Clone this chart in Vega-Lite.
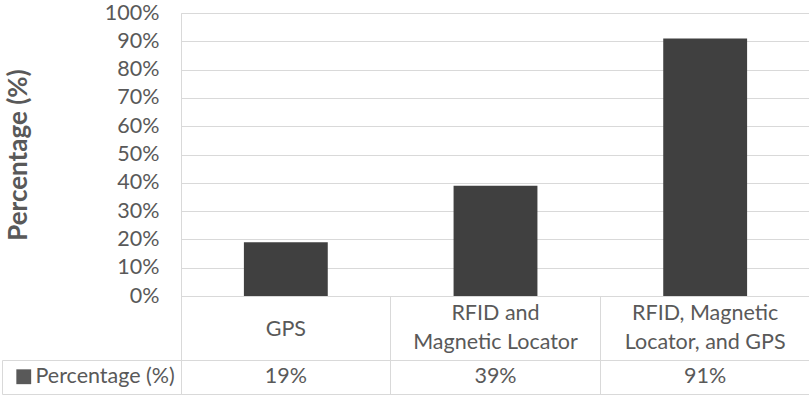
{
  "$schema": "https://vega.github.io/schema/vega-lite/v6.json",
  "background": "white",
  "padding": {"left": 1, "top": 1, "right": 0, "bottom": 0},
  "config": {
    "font": "Lato",
    "view": {"stroke": "#d9d9d9", "strokeWidth": 1},
    "axis": {"labelFont": "Lato", "titleFont": "Lato", "labelColor": "#595959", "titleColor": "#595959"},
    "legend": {"labelFont": "Lato"}
  },
  "datasets": {
    "usage": [
      {"system": "GPS", "series": "Percentage (%)", "share": 0.19},
      {"system": "RFID and\nMagnetic Locator", "series": "Percentage (%)", "share": 0.39},
      {"system": "RFID, Magnetic\nLocator, and GPS", "series": "Percentage (%)", "share": 0.91}
    ]
  },
  "data": {"name": "usage"},
  "spacing": 0,
  "bounds": "flush",
  "resolve": {"scale": {"x": "independent", "y": "independent", "color": "independent"}},
  "vconcat": [
    {
      "width": 629,
      "height": 283,
      "mark": {"type": "bar", "color": "#404040"},
      "encoding": {
        "x": {"field": "system", "type": "nominal", "sort": null, "scale": {"type": "band", "paddingInner": 0.6, "paddingOuter": 0.3}, "axis": null},
        "y": {
          "field": "share", "type": "quantitative",
          "scale": {"domain": [0, 1], "nice": false},
          "axis": {
            "title": "Percentage (%)", "format": ".0%",
            "values": [0, 0.1, 0.2, 0.3, 0.4, 0.5, 0.6, 0.7, 0.8, 0.9, 1],
            "grid": true, "gridColor": "#d9d9d9", "domain": false, "ticks": false,
            "labelPadding": 22, "labelFontSize": 21.5,
            "titleFontSize": 26, "titleFontWeight": "bold", "titlePadding": 73
          }
        }
      }
    },
    {
      "width": 629,
      "height": 64,
      "encoding": {
        "x": {
          "field": "system", "type": "nominal", "sort": null, "scale": {"type": "band", "padding": 0},
          "axis": {"title": null, "labels": false, "ticks": false, "domain": false, "grid": true, "gridColor": "#d9d9d9", "bandPosition": 0}
        },
        "text": {"field": "system"}
      },
      "layer": [
        {
          "transform": [{"filter": "indexof(datum.system, '\\n') < 0"}],
          "mark": {"type": "text", "fontSize": 21.5, "color": "#595959", "baseline": "middle", "dy": 2}
        },
        {
          "transform": [{"filter": "indexof(datum.system, '\\n') >= 0"}],
          "mark": {"type": "text", "fontSize": 21.5, "color": "#595959", "lineBreak": "\n", "lineHeight": 29, "baseline": "middle", "dy": -14}
        }
      ]
    },
    {
      "width": 629,
      "height": 34,
      "mark": {"type": "text", "fontSize": 21.5, "baseline": "middle"},
      "encoding": {
        "x": {
          "field": "system", "type": "nominal", "sort": null, "scale": {"type": "band", "padding": 0},
          "axis": {"title": null, "labels": false, "ticks": false, "domain": false, "grid": true, "gridColor": "#d9d9d9", "bandPosition": 0}
        },
        "y": {
          "field": "series", "type": "nominal", "scale": {"type": "band", "padding": 0},
          "axis": {
            "title": null, "labels": false, "grid": false,
            "domain": true, "domainColor": "#d9d9d9",
            "ticks": true, "tickColor": "#d9d9d9", "tickSize": -179, "tickBand": "extent",
            "offset": 179
          }
        },
        "text": {"field": "share", "type": "quantitative", "format": ".0%"},
        "color": {
          "field": "series", "type": "nominal",
          "scale": {"range": ["#595959"]},
          "legend": {
            "title": null, "orient": "none", "legendX": -168, "legendY": 6,
            "symbolType": "square", "symbolSize": 220, "symbolStrokeWidth": 0,
            "labelFontSize": 21.5, "labelColor": "#595959", "labelOffset": 1, "padding": 0,
            "encode": {"symbols": {"update": {"fill": {"value": "#404040"}, "opacity": {"value": 1}}}}
          }
        }
      }
    }
  ]
}
